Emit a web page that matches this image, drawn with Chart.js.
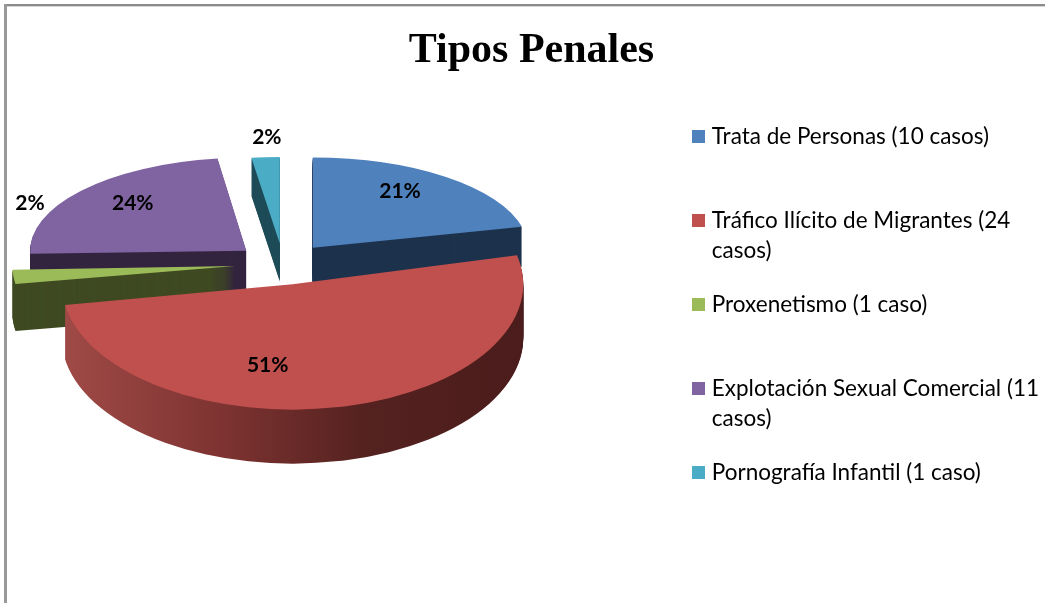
<!DOCTYPE html>
<html><head><meta charset="utf-8">
<style>html,body{margin:0;padding:0;background:#fff}#w{width:1045px;height:603px}canvas{display:block;filter:blur(.4px)}</style>
<script src="https://cdn.jsdelivr.net/npm/chart.js@4"></script>
</head><body><div id="w"><canvas id="c" width="1045" height="603"></canvas></div>
<script>
const categories = ['Trata de Personas (10 casos)','Tráfico Ilícito de Migrantes (24 casos)','Proxenetismo (1 caso)','Explotación Sexual Comercial (11 casos)','Pornografía Infantil (1 caso)'];
const legendLines = [['Trata de Personas (10 casos)',''],['Tráfico Ilícito de Migrantes (24','casos)'],['Proxenetismo (1 caso)',''],['Explotación Sexual Comercial (11','casos)'],['Pornografía Infantil (1 caso)','']];
const caseCounts = [10,24,1,11,1];
const percentLabels = ['21%','51%','2%','24%','2%'];
const sliceColors = ['#4f81bd','#c0504d','#9bbb59','#8064a2','#4bacc6'];
const wallColors = ['#1d324c','#7a3230','#3f4a22','#33243f','#1e4c58'];
const drawOrder = [3,4,0,2,1];
const labelNudges = [[-6,-7],[-57,-5],[-50,-70],[2,-5],[-3,-46]];

const view = {cx:283, cy:264, explode:48, explodeY:.43, radius:222, perspX:.04, baseY:.475, perspY:.07, depth:46, perspD:8};

function geom(el){
  const a=(el.startAngle+el.endAngle)/2, back=-Math.sin(a);
  const rx=view.radius*(1-view.perspX*back), ry=rx*(view.baseY-view.perspY*back);
  return {a,back,rx,ry,ax:view.cx+Math.cos(a)*view.explode, ay:view.cy+Math.sin(a)*view.explode*view.explodeY, d:view.depth-view.perspD*back};
}
function shade(el,c){
  const s=Object.create(el);
  s.options={backgroundColor:c,borderColor:c,borderWidth:0,borderAlign:'center',borderRadius:0,offset:0,spacing:0,circular:true,borderJoinStyle:'round',borderDash:[],borderDashOffset:0};
  return s;
}
function swatch(c){
  const k=document.createElement('canvas');k.width=13;k.height=13;
  const x=k.getContext('2d');x.fillStyle=c;x.fillRect(0,0,13,13);
  return k;
}
const pie3d = {
  id:'pie3d',
  afterLayout(chart){
    chart.legend.left+=4;chart.legend.right+=4;
  },
  beforeDraw(chart){
    const {ctx,width,height}=chart;
    ctx.save();
    ctx.fillStyle='#fff';ctx.fillRect(0,0,width,height);
    ctx.fillStyle='#8c8c8c';ctx.fillRect(4,4,width-4,2);
    ctx.fillStyle='#d4d4d4';ctx.fillRect(7,6,width-7,1);
    ctx.fillStyle='#999';ctx.fillRect(4,4,3,height-4);
    ctx.restore();
  },
  beforeDatasetDraw(chart,args){
    const {ctx}=chart, arcs=chart.getDatasetMeta(args.index).data;
    drawOrder.forEach(i=>{
      const el=arcs[i], g=geom(el), R=el.outerRadius;
      let wall=wallColors[i];
      if(i===1){
        wall=ctx.createLinearGradient(el.x-R,0,el.x+R,0);
        wall.addColorStop(0,'#a04a47');wall.addColorStop(.35,'#7d3331');wall.addColorStop(.65,'#552220');wall.addColorStop(1,'#4a1c1b');
      }
      const put=(dy,c)=>{
        ctx.save();
        ctx.translate(g.ax,g.ay+dy);
        ctx.scale(g.rx/R,g.ry/R);
        ctx.translate(-el.x,-el.y);
        shade(el,c).draw(ctx);
        ctx.restore();
      };
      for(let dy=Math.round(g.d);dy>0;dy--) put(dy,wall);
      put(0,sliceColors[i]);
    });
    return false;
  },
  afterDatasetsDraw(chart){
    const {ctx}=chart, arcs=chart.getDatasetMeta(0).data;
    ctx.save();
    ctx.font='bold 21px Lato';ctx.fillStyle='#000';ctx.textAlign='center';ctx.textBaseline='middle';
    arcs.forEach((el,i)=>{
      const g=geom(el);
      ctx.fillText(percentLabels[i], g.ax+Math.cos(g.a)*g.rx*.7+labelNudges[i][0], g.ay+Math.sin(g.a)*g.ry*.7+labelNudges[i][1]);
    });
    ctx.restore();
  }
};
new Chart(document.getElementById('c'),{
  type:'pie',
  data:{labels:categories,datasets:[{data:caseCounts,backgroundColor:sliceColors,borderWidth:0}]},
  plugins:[pie3d],
  options:{
    responsive:false,animation:false,
    layout:{padding:{left:18}},
    plugins:{
      tooltip:{enabled:false},
      title:{display:true,text:'Tipos Penales',color:'#000',font:{family:'"Liberation Serif"',size:42,weight:'bold',lineHeight:1.15},padding:{top:27,bottom:26}},
      legend:{position:'right',align:'start',fullSize:false,onClick:null,
        labels:{usePointStyle:true,pointStyleWidth:4,boxHeight:13,padding:24,color:'#3a3a3a',font:{family:'Lato',size:22.5,lineHeight:1.333},
          generateLabels:()=>legendLines.map((t,i)=>({text:t,fillStyle:sliceColors[i],strokeStyle:sliceColors[i],lineWidth:0,index:i,pointStyle:swatch(sliceColors[i])}))}
      }
    }
  }
});
</script></body></html>
